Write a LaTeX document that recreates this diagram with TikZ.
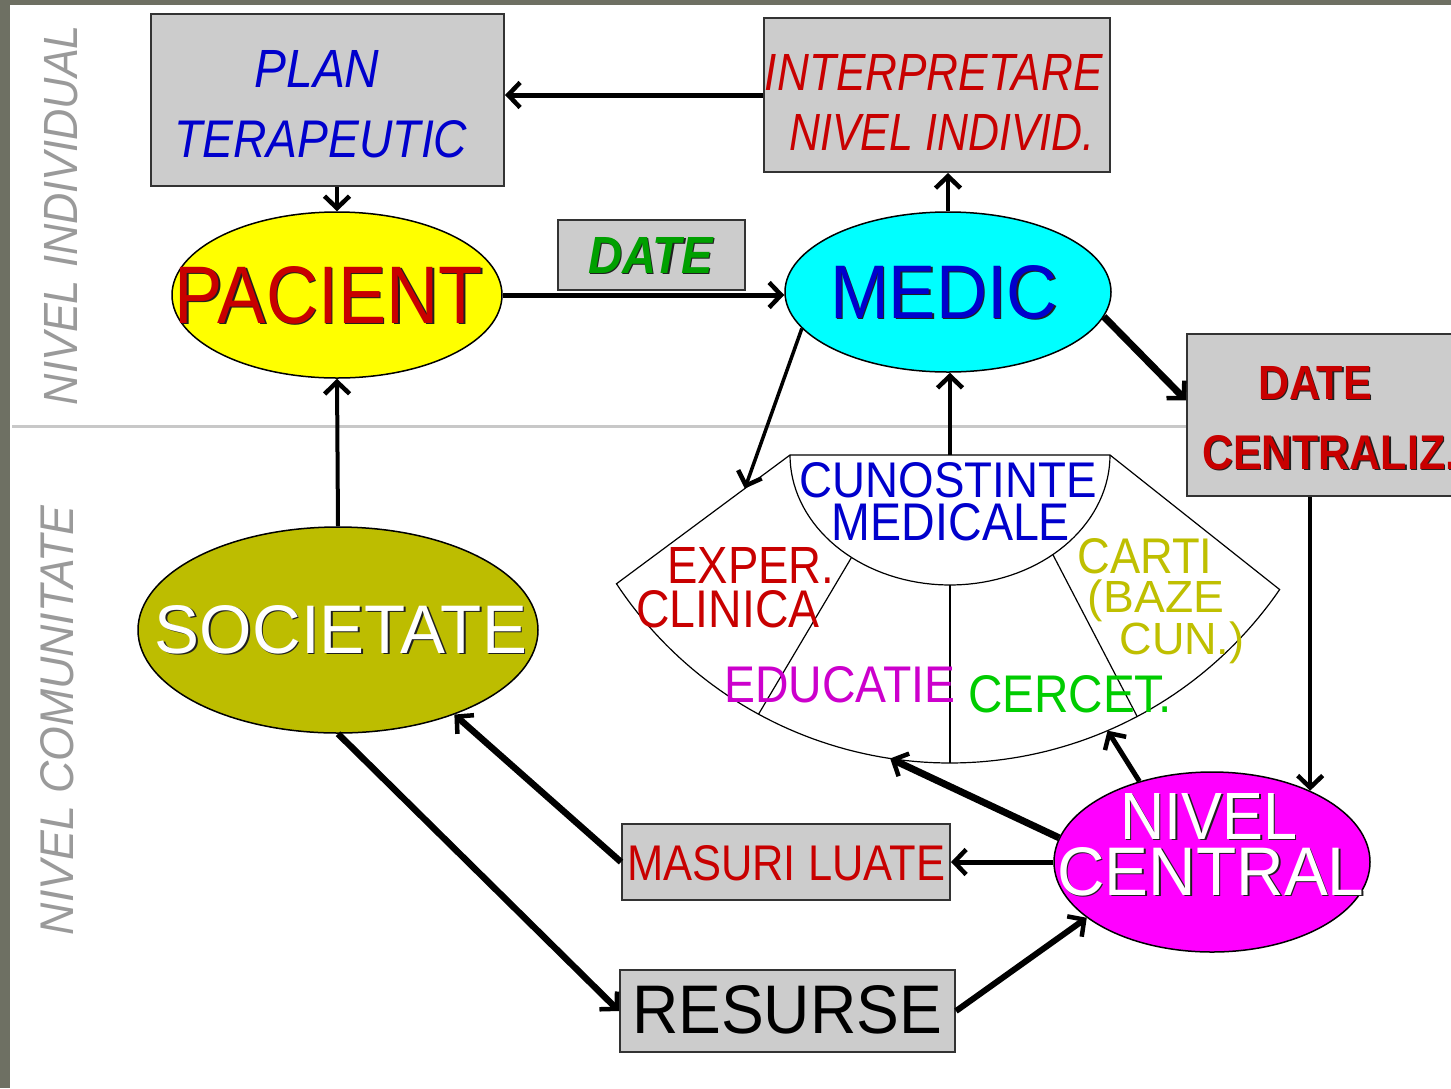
\documentclass[tikz,border=0pt]{standalone}
\usepackage{fontspec}
\setmainfont{Liberation Sans}
\usepackage{graphicx}
\usetikzlibrary{arrows.meta,shapes.geometric,calc}
\definecolor{bgdark}{HTML}{6E7063}
\definecolor{sepgray}{HTML}{C8C8C8}
\definecolor{sidegray}{HTML}{9A9A9A}
\definecolor{boxgray}{HTML}{CCCCCC}
\definecolor{boxline}{HTML}{333333}
\definecolor{yel}{HTML}{FFFF00}
\definecolor{cyn}{HTML}{00FFFF}
\definecolor{oli}{HTML}{BDBD00}
\definecolor{mag}{HTML}{FF00FF}
\definecolor{tred}{HTML}{C80000}
\definecolor{tblue}{HTML}{0000CC}
\definecolor{tgreen}{HTML}{00A000}
\definecolor{tlgreen}{HTML}{00CC00}
\definecolor{tyel}{HTML}{BFBF00}
\definecolor{tmag}{HTML}{CC00CC}
\definecolor{shad}{HTML}{202020}
\newcommand{\fitt}[3]{\resizebox{#1pt}{#2pt}{#3}}
\newcommand{\fitd}[3]{\resizebox*{#1pt}{#2pt}{#3}}
\newcommand{\shd}[5]{\makebox[0pt][l]{\hspace*{1.5pt}\raisebox{-1.5pt}{\color{#2}\fitt{#3}{#4}{#5}}}{\color{#1}\fitt{#3}{#4}{#5}}}
\begin{document}
\begin{tikzpicture}[x=1pt,y=-1pt,
  box/.style={draw=boxline, line width=2pt, fill=boxgray, rectangle, inner sep=0pt},
  ell/.style={draw=black, line width=1.5pt, ellipse, inner sep=0pt},
  lbl/.style={inner sep=0pt, anchor=base},
  arr/.style={-{Straight Barb[length=12pt,width=25pt,line width=4.5pt]}, line width=#1},
  arr/.default=5pt,
  fanline/.style={draw=black, line width=1.2pt}]

\clip (0,0) rectangle (1451,1088);
\fill[bgdark] (0,0) rectangle (1451,1088);
\fill[white] (10,5) rectangle (1451,1088);

% separator between levels
\draw[sepgray, line width=3pt] (12,426) -- (1187,426);

% side labels
\node[rotate=90, inner sep=0pt, text=sidegray] (tNI) at (61,215) {\fitt{380}{33}{\textit{NIVEL INDIVIDUAL}}};
\node[rotate=90, inner sep=0pt, text=sidegray] (tNC) at (57,720) {\fitt{430}{33}{\textit{NIVEL COMUNITATE}}};

% boxes
\node[box, minimum width=353pt, minimum height=172pt] (plan) at (327.5,100) {};
\node[box, minimum width=346pt, minimum height=154pt] (interp) at (937,95) {};
\node[box, minimum width=187pt, minimum height=70pt] (datebox) at (651.5,255) {};
\node[box, minimum width=280pt, minimum height=162pt] (dc) at (1327,415) {};
\node[box, minimum width=328pt, minimum height=76pt] (ms) at (786,862) {};
\node[box, minimum width=335pt, minimum height=82pt] (rs) at (787.5,1011) {};

% ellipses
\node[ell, fill=yel, minimum width=330pt, minimum height=166pt] (pac) at (337,295) {};
\node[ell, fill=cyn, minimum width=326pt, minimum height=160pt] (med) at (948,292) {};
\node[ell, fill=oli, minimum width=400pt, minimum height=206pt] (soc) at (338,630) {};
\node[ell, fill=mag, minimum width=316pt, minimum height=180pt] (nc) at (1212,862) {};

% fan of knowledge
\draw[fanline, fill=white] (790,455) -- (1110,455) --
  plot[domain=34.5:146.5, samples=90] ({950+400*cos(\x)},{363+400*sin(\x)}) -- cycle;
\draw[fanline] plot[domain=0:180, samples=70] ({950+160*cos(\x)},{455+130*sin(\x)});
\draw[fanline] ({950+160*cos(128)},{455+130*sin(128)}) -- ({950+400*cos(118.6)},{363+400*sin(118.6)});
\draw[fanline] ({950+160*cos(50)},{455+130*sin(50)}) -- ({950+400*cos(62.1)},{363+400*sin(62.1)});
\draw[fanline] (950,585) -- (950,763);
\coordinate (fanL) at ($(790,455)!0.26!(616.4,583.8)$);
\coordinate (fanT) at (950,455);
\coordinate (fanB) at ({950+400*cos(98.6)},{363+400*sin(98.6)});
\coordinate (fanR) at ({950+400*cos(66.8)},{363+400*sin(66.8)});
\coordinate (dcin) at ($(dc.north west)!0.41!(dc.south west)$);

% connectors
\draw[arr=5pt] (interp.west) -- (interp.west -| plan.east);
\draw[arr=4pt] (pac.north |- plan.south) -- (pac.north);
\draw[arr=5pt] (pac.east) -- (pac.east -| med.west);
\draw[arr=4pt] (med.north) -- (med.north |- interp.south);
\draw[arr=7pt] (med.-9.4) -- (dcin);
\draw[arr=3.5pt] (med.194.6) -- (fanL);
\draw[arr=4pt] (fanT) -- (fanT |- med.south);
\draw[arr=4pt] (nc.36.5 |- dc.south) -- (nc.36.5);
\draw[arr=4pt] (soc.north) -- (pac.south);
\draw[arr=6.5pt] (soc.south) -- (rs.west);
\draw[arr=6.5pt] (ms.west) -- (soc.-36);
\draw[arr=5pt] (nc.west) -- (ms.east);
\draw[arr=6pt] (rs.east) -- (nc.-156.5);
\draw[arr=7pt] (nc.171.1) -- (fanB);
\draw[arr=5pt] (nc.132.6) -- (fanR);

% texts
\node[lbl, text=tblue] (tPlan) at (317,87) {\fitt{125}{37}{\textit{PLAN}}};
\node[lbl, text=tblue] (tTer) at (321,157) {\fitt{293}{37}{\textit{TERAPEUTIC}}};
\node[lbl, text=tred] (tInt) at (934,90) {\fitt{338}{36}{\textit{INTERPRETARE}}};
\node[lbl, text=tred] (tNiv) at (942,150) {\fitt{305}{36}{\textit{NIVEL INDIVID.}}};
\node[lbl] (tDate) at (651,273) {\shd{tgreen}{shad}{126}{36}{\textbf{\textit{DATE}}}};
\node[lbl] (tPac) at (329,323) {\shd{tred}{shad}{308}{57}{PACIENT}};
\node[lbl] (tMed) at (944,318) {\shd{tblue}{shad}{228}{53}{MEDIC}};
\node[lbl] (tDc1) at (1315,399) {\shd{tred}{shad}{114}{33}{\textbf{DATE}}};
\node[lbl, anchor=base west] (tDc2) at (1202,469) {\shd{tred}{shad}{255}{34}{\textbf{CENTRALIZ.}}};
\node[lbl] (tSoc) at (341,653) {\shd{white}{shad}{372}{48}{SOCIETATE}};
\node[lbl] (tNc1) at (1209,839) {\shd{white}{shad}{177}{46}{NIVEL}};
\node[lbl] (tNc2) at (1211,895) {\shd{white}{shad}{307}{48}{CENTRAL}};
\node[lbl, text=tred] (tMs) at (786,880) {\fitt{318}{35}{MASURI LUATE}};
\node[lbl, text=black] (tRs) at (787,1033) {\fitt{310}{48}{RESURSE}};
\node[lbl, text=tblue] (tCun) at (948,497) {\fitt{297}{35}{CUNOSTINTE}};
\node[lbl, text=tblue] (tMedc) at (951,540) {\fitt{238}{37}{MEDICALE}};
\node[lbl, text=tred] (tExp) at (751,583) {\fitt{167}{36}{EXPER.}};
\node[lbl, text=tred] (tCli) at (728,627) {\fitt{183}{37}{CLINICA}};
\node[lbl, text=tyel] (tCar) at (1145,573) {\fitt{135}{35}{CARTI}};
\node[inner sep=0pt, text=tyel] (tBaz) at (1156,601) {\fitd{136}{42}{(BAZE}};
\node[inner sep=0pt, text=tyel] (tCn) at (1182,643) {\fitd{125}{42}{CUN.)}};
\node[lbl, text=tmag] (tEdu) at (840,702) {\fitt{231}{36}{EDUCATIE}};
\node[lbl, text=tlgreen] (tCer) at (1070,712) {\fitt{204}{37}{CERCET.}};
\end{tikzpicture}
\end{document}
